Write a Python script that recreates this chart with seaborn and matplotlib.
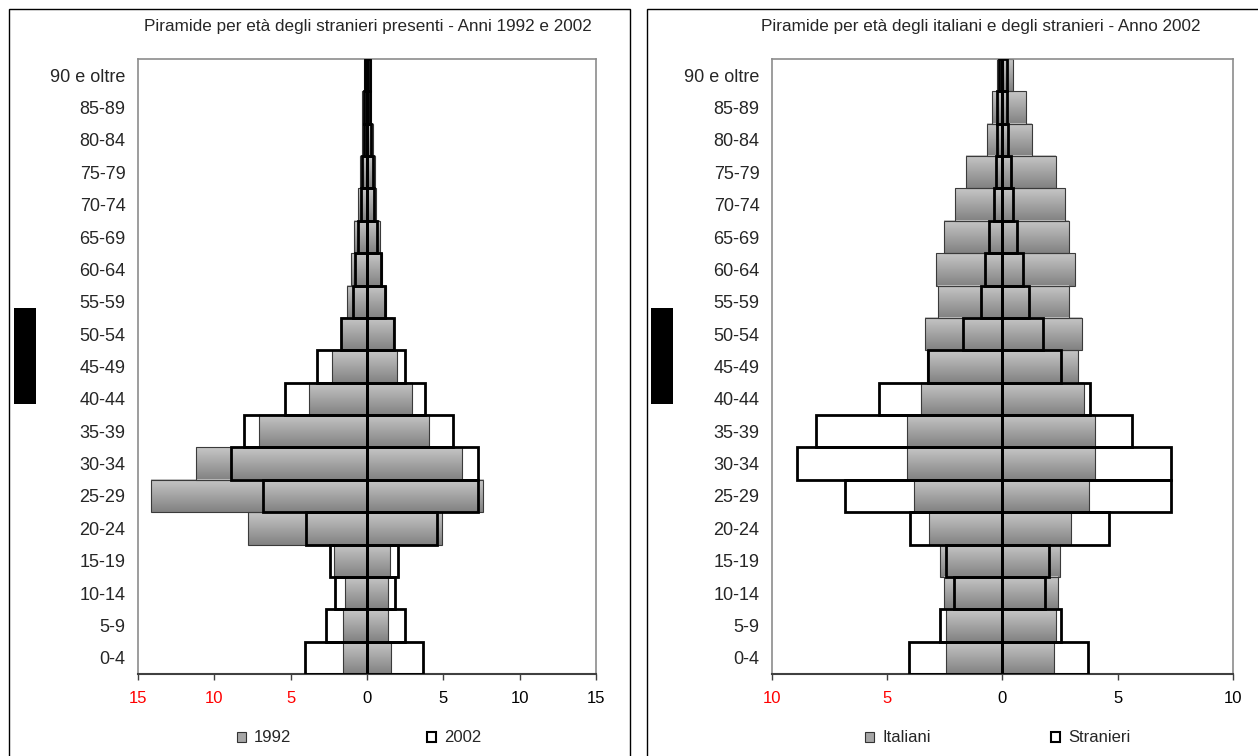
import numpy as np
import matplotlib
matplotlib.use("Agg")
import matplotlib.pyplot as plt
from matplotlib.patches import Patch, Rectangle
from matplotlib.colors import LinearSegmentedColormap
import seaborn as sns

# classi di età (dall'alto in basso)
eta = ["90 e oltre", "85-89", "80-84", "75-79", "70-74", "65-69", "60-64",
       "55-59", "50-54", "45-49", "40-44", "35-39", "30-34", "25-29",
       "20-24", "15-19", "10-14", "5-9", "0-4"]

# stranieri 1992 (maschi a sinistra, negativi)
str92_m = [-0.20, -0.30, -0.30, -0.45, -0.58, -0.85, -1.02, -1.28, -1.72, -2.30,
           -3.80, -7.08, -11.19, -14.16, -7.80, -2.19, -1.42, -1.57, -1.57]
str92_f = [0.25, 0.25, 0.40, 0.55, 0.60, 0.82, 1.00, 1.25, 1.68, 1.97,
           2.97, 4.07, 6.21, 7.61, 4.92, 1.53, 1.40, 1.40, 1.55]

# stranieri 2002
str02_m = [-0.15, -0.22, -0.22, -0.30, -0.38, -0.58, -0.78, -0.94, -1.72, -3.25,
           -5.35, -8.07, -8.90, -6.82, -4.02, -2.45, -2.10, -2.70, -4.05]
str02_f = [0.18, 0.20, 0.26, 0.38, 0.45, 0.64, 0.91, 1.17, 1.75, 2.52,
           3.80, 5.62, 7.30, 7.30, 4.60, 2.02, 1.85, 2.52, 3.70]

# italiani 2002
ita_m = [-0.23, -0.46, -0.66, -1.60, -2.07, -2.54, -2.90, -2.80, -3.37, -3.28,
         -3.55, -4.13, -4.13, -3.84, -3.19, -2.72, -2.54, -2.44, -2.44]
ita_f = [0.45, 1.03, 1.29, 2.33, 2.69, 2.88, 3.16, 2.88, 3.44, 3.27,
         3.53, 4.00, 4.00, 3.74, 2.98, 2.51, 2.41, 2.33, 2.23]

sns.set_style("white")
plt.rcParams["font.family"] = ["Liberation Sans", "DejaVu Sans"]

W, H = 1258, 756
fig = plt.figure(figsize=(W / 100, H / 100), dpi=100)


def px_axes(x0, y0, x1, y1):
    return fig.add_axes([x0 / W, 1 - y1 / H, (x1 - x0) / W, (y1 - y0) / H])


grad = np.linspace(0, 1, 64).reshape(-1, 1)
grey_cmap = LinearSegmentedColormap.from_list("grigio", ["#c6c6c6", "#828282"])


def grey_bars(ax, vals):
    n0 = len(ax.patches)
    sns.barplot(x=vals, y=eta, orient="h", width=1.0, color="#a6a6a6",
                errorbar=None, ax=ax)
    for p in ax.patches[n0:]:
        x0, x1 = sorted([p.get_x(), p.get_x() + p.get_width()])
        y0, y1 = p.get_y(), p.get_y() + p.get_height()
        p.set_facecolor("none")
        p.set_edgecolor("#3a3a3a")
        p.set_linewidth(0.8)
        p.set_zorder(2)
        ax.imshow(grad, extent=[x0, x1, y1, y0], aspect="auto", cmap=grey_cmap,
                  origin="upper", zorder=1.5, interpolation="bilinear")


def outline_bars(ax, vals):
    n0 = len(ax.patches)
    sns.barplot(x=vals, y=eta, orient="h", width=1.0, color="black",
                errorbar=None, ax=ax)
    for p in ax.patches[n0:]:
        p.set_facecolor("none")
        p.set_edgecolor("black")
        p.set_linewidth(2)
        p.set_zorder(3)


def style(ax, lim):
    ax.set_xlim(-lim, lim)
    ax.set_ylim(len(eta) - 0.5, -0.5)
    ticks = np.arange(-lim, lim + 1, 5)
    ax.set_xticks(ticks)
    ax.set_xticklabels([str(abs(int(t))) for t in ticks])
    for lab, t in zip(ax.get_xticklabels(), ticks):
        lab.set_color("red" if t < 0 else "black")
    ax.axvline(0, color="black", lw=2, zorder=4)
    for s in ["top", "left", "right"]:
        ax.spines[s].set_color("#8c8c8c")
        ax.spines[s].set_linewidth(1.2)
    ax.spines["bottom"].set_color("#404040")
    ax.spines["bottom"].set_linewidth(1.5)
    ax.tick_params(axis="x", bottom=True, length=4, width=1, color="#404040",
                   direction="out", pad=8, labelsize=12)
    ax.tick_params(axis="y", left=False, length=0, pad=9, labelsize=13)
    ax.set_xlabel("")
    ax.set_ylabel("")


# grafico di sinistra: stranieri 1992 e 2002
ax1 = px_axes(138, 59, 596, 674)
grey_bars(ax1, str92_m)
grey_bars(ax1, str92_f)
outline_bars(ax1, str02_m)
outline_bars(ax1, str02_f)
style(ax1, 15)

# grafico di destra: italiani e stranieri 2002
ax2 = px_axes(772, 59, 1233, 674)
grey_bars(ax2, ita_m)
grey_bars(ax2, ita_f)
outline_bars(ax2, str02_m)
outline_bars(ax2, str02_f)
style(ax2, 10)

fig.text(368 / W, 1 - 26 / H, "Piramide per età degli stranieri presenti - Anni 1992 e 2002",
         ha="center", va="center", fontsize=12.3)
fig.text(981 / W, 1 - 26 / H, "Piramide per età degli italiani e degli stranieri - Anno 2002",
         ha="center", va="center", fontsize=12.3)

# cornici dei pannelli e rettangoli neri
fig.patches.append(Rectangle((9 / W, -0.05), (630 - 9) / W, 1.05 - 9 / H, transform=fig.transFigure,
                             fill=False, edgecolor="black", lw=1))
fig.patches.append(Rectangle((647 / W, -0.05), 0.6, 1.05 - 9 / H, transform=fig.transFigure,
                             fill=False, edgecolor="black", lw=1))
fig.patches.append(Rectangle((14 / W, 1 - 404 / H), 22 / W, 96 / H, transform=fig.transFigure,
                             facecolor="black", edgecolor="none"))
fig.patches.append(Rectangle((651 / W, 1 - 404 / H), 22 / W, 96 / H, transform=fig.transFigure,
                             facecolor="black", edgecolor="none"))

h_grey = Patch(facecolor="#a6a6a6", edgecolor="#333333", lw=0.8)
h_white = Patch(facecolor="white", edgecolor="black", lw=1.5)
fig.legend([h_grey, h_white], ["1992", "2002"], loc="center", bbox_to_anchor=(359 / W, 1 - 738 / H),
           ncol=2, frameon=False, columnspacing=8.1, handlelength=0.55, handleheight=0.55,
           handletextpad=0.5, fontsize=12)
fig.legend([h_grey, h_white], ["Italiani", "Stranieri"], loc="center", bbox_to_anchor=(998 / W, 1 - 738 / H),
           ncol=2, frameon=False, columnspacing=7.2, handlelength=0.55, handleheight=0.55,
           handletextpad=0.5, fontsize=12)

fig.savefig("out.png", dpi=100)
